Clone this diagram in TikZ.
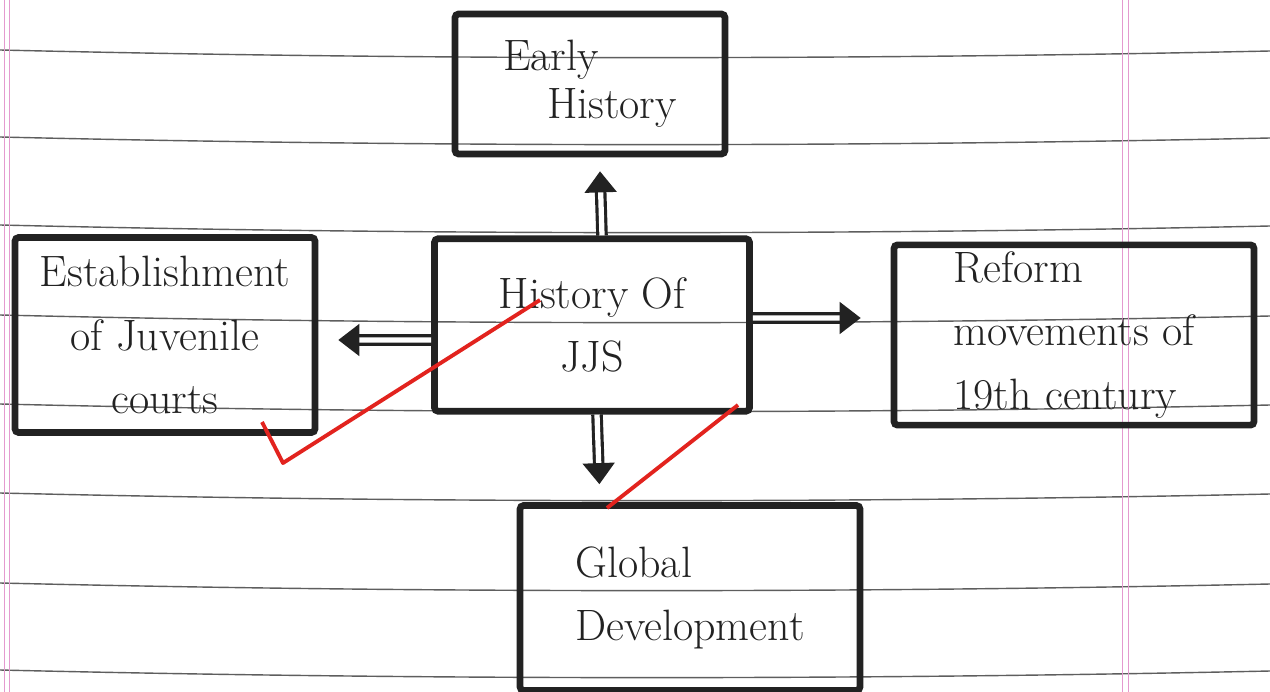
\documentclass[tikz,border=0pt]{standalone}
\usepackage{xcolor}
\usepackage{tikz}
\usetikzlibrary{arrows.meta}
\usetikzlibrary{positioning}
\definecolor{pencil}{HTML}{222222}
\definecolor{ruling}{HTML}{5E5E5E}
\definecolor{margin}{HTML}{E49ACF}
\definecolor{tick}{HTML}{E2231E}
\tikzset{
  box/.style={draw=pencil, line width=3.8pt, rounded corners=2pt, inner sep=4pt, text=pencil, font=\fontsize{25}{36}\selectfont},
  flow/.style={draw=pencil, double=white, double distance=3pt, line width=1.8pt, -{Triangle[length=12pt,width=18pt]}},
  paper/.style={ruling, line width=0.8pt},
  redpen/.style={tick, line width=2.2pt, line join=round}
}

\begin{document}
\begin{tikzpicture}[x=0.02cm, y=-0.02cm]
\useasboundingbox (0,0) rectangle (1270,692);
\fill[white] (0,0) rectangle (1270,692);

\foreach \y in {50,137,225,315,404,493,583,670}
  \draw[paper] (0,\y) .. controls (420,\y+10) and (850,\y+10) .. (1270,\y+1);
\draw[margin, line width=0.5pt] (4,0) -- (4,692);
\draw[margin, line width=0.5pt] (9,0) -- (9,692);
\draw[margin, line width=0.5pt] (1122,0) -- (1122,692);
\draw[margin, line width=0.5pt] (1128,0) -- (1128,692);

\node[box, minimum width=5.4cm, minimum height=2.8cm, align=left] (early) at (590,84) {\raisebox{-0.3cm}{Early}\\\quad History};
\node[box, minimum width=6.3cm, minimum height=3.45cm, align=center] (jjs) at (592,325) {History Of\\JJS};
\node[box, minimum width=6cm, minimum height=3.9cm, align=center] (estab) at (165,335) {Establishment\\of Juvenile\\courts};
\node[box, minimum width=7.2cm, minimum height=3.4cm, align=left] (reform) at (1074,335) {Reform\\movements of\\19th century};
\node[box, minimum width=6.8cm, minimum height=3.7cm, align=left] (global) at (690,598) {Global\\Development};

\draw[flow] ([xshift=0.2cm]jjs.north) -- ([xshift=0.2cm, yshift=-0.28cm]early.south);
\draw[flow, shorten >=0.4cm] ([yshift=-0.3cm]jjs.west) -- ([yshift=-0.1cm]estab.east);
\draw[flow, shorten >=0.6cm] ([yshift=0.14cm]jjs.east) -- ([yshift=0.34cm]reform.west);
\draw[flow, shorten >=0.36cm] ([xshift=0.1cm]jjs.south) -- ([xshift=-1.8cm]global.north);

\draw[redpen] (540,300) -- (283,463) -- (262,422);
\draw[redpen] (738,405) -- (607,508);
\end{tikzpicture}
\end{document}
